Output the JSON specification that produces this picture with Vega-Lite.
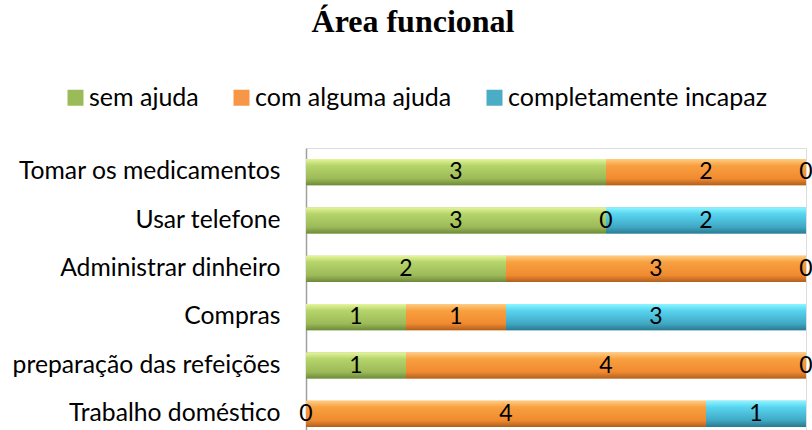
{
  "$schema": "https://vega.github.io/schema/vega-lite/v6.json",
  "width": 500,
  "height": 290,
  "autosize": "none",
  "padding": {"left": 306, "top": 148, "right": 6, "bottom": 0},
  "background": "white",
  "title": {"text": "Área funcional", "font": "Liberation Serif", "fontSize": 32, "fontWeight": "bold", "color": "black", "anchor": "middle", "baseline": "alphabetic", "dx": -143, "offset": 21},
  "data": {"values": [
    {"task": "Tomar os medicamentos", "status": "sem ajuda", "o": 1, "value": 3},
    {"task": "Tomar os medicamentos", "status": "com alguma ajuda", "o": 2, "value": 2},
    {"task": "Tomar os medicamentos", "status": "completamente incapaz", "o": 3, "value": 0},
    {"task": "Usar telefone ", "status": "sem ajuda", "o": 1, "value": 3},
    {"task": "Usar telefone ", "status": "com alguma ajuda", "o": 2, "value": 0},
    {"task": "Usar telefone ", "status": "completamente incapaz", "o": 3, "value": 2},
    {"task": "Administrar dinheiro", "status": "sem ajuda", "o": 1, "value": 2},
    {"task": "Administrar dinheiro", "status": "com alguma ajuda", "o": 2, "value": 3},
    {"task": "Administrar dinheiro", "status": "completamente incapaz", "o": 3, "value": 0},
    {"task": "Compras", "status": "sem ajuda", "o": 1, "value": 1},
    {"task": "Compras", "status": "com alguma ajuda", "o": 2, "value": 1},
    {"task": "Compras", "status": "completamente incapaz", "o": 3, "value": 3},
    {"task": "preparação das refeições", "status": "sem ajuda", "o": 1, "value": 1},
    {"task": "preparação das refeições", "status": "com alguma ajuda", "o": 2, "value": 4},
    {"task": "preparação das refeições", "status": "completamente incapaz", "o": 3, "value": 0},
    {"task": "Trabalho doméstico", "status": "sem ajuda", "o": 1, "value": 0},
    {"task": "Trabalho doméstico", "status": "com alguma ajuda", "o": 2, "value": 4},
    {"task": "Trabalho doméstico", "status": "completamente incapaz", "o": 3, "value": 1}
  ]},
  "transform": [
    {"stack": "value", "groupby": ["task"], "sort": [{"field": "o", "order": "ascending"}], "as": ["x0", "x1"]},
    {"calculate": "(datum.x0 + datum.x1) / 2", "as": "xm"}
  ],
  "encoding": {
    "y": {"field": "task", "type": "nominal",
      "sort": ["Tomar os medicamentos", "Usar telefone ", "Administrar dinheiro", "Compras", "preparação das refeições", "Trabalho doméstico"],
      "scale": {"paddingInner": 0.46, "paddingOuter": 0.23},
      "axis": {"title": null, "ticks": false, "domainColor": "#a0a0a0", "domainWidth": 1.5, "labelPadding": 26, "labelFont": "Lato", "labelFontSize": 24.7, "labelColor": "black", "labelLimit": 0}}
  },
  "layer": [
    {"mark": {"type": "bar"},
     "encoding": {
       "x": {"field": "x0", "type": "quantitative", "scale": {"domain": [0, 5], "nice": false}, "axis": null},
       "x2": {"field": "x1"},
       "color": {"field": "status", "type": "nominal",
         "scale": {"domain": ["sem ajuda", "com alguma ajuda", "completamente incapaz"], "range": ["#9bbb59", "#f79646", "#4bacc6"]},
         "legend": {"title": null, "orient": "none", "direction": "horizontal", "legendX": -243, "legendY": -63, "padding": 0, "symbolType": "square", "symbolSize": 256, "symbolStrokeWidth": 0, "labelFont": "Lato", "labelFontSize": 25, "labelColor": "black", "labelOffset": 1, "columnPadding": 30, "labelLimit": 0}}
     }},
    {"transform": [{"filter": "datum.status == 'sem ajuda'"}],
     "mark": {"type": "bar", "color": {"gradient": "linear", "x1": 0, "y1": 0, "x2": 0, "y2": 1, "stops": [{"offset": 0, "color": "#e4f59a"}, {"offset": 0.25, "color": "#b5d46a"}, {"offset": 0.75, "color": "#9cba58"}, {"offset": 1, "color": "#6d8a3a"}]}},
     "encoding": {"x": {"field": "x0", "type": "quantitative"}, "x2": {"field": "x1"}}},
    {"transform": [{"filter": "datum.status == 'com alguma ajuda'"}],
     "mark": {"type": "bar", "color": {"gradient": "linear", "x1": 0, "y1": 0, "x2": 0, "y2": 1, "stops": [{"offset": 0, "color": "#ffcc80"}, {"offset": 0.25, "color": "#f8a040"}, {"offset": 0.75, "color": "#f08a30"}, {"offset": 1, "color": "#b0601e"}]}},
     "encoding": {"x": {"field": "x0", "type": "quantitative"}, "x2": {"field": "x1"}}},
    {"transform": [{"filter": "datum.status == 'completamente incapaz'"}],
     "mark": {"type": "bar", "color": {"gradient": "linear", "x1": 0, "y1": 0, "x2": 0, "y2": 1, "stops": [{"offset": 0, "color": "#8af6ff"}, {"offset": 0.25, "color": "#58d4f0"}, {"offset": 0.75, "color": "#40a8c4"}, {"offset": 1, "color": "#2a7a90"}]}},
     "encoding": {"x": {"field": "x0", "type": "quantitative"}, "x2": {"field": "x1"}}},
    {"mark": {"type": "text", "font": "Lato", "fontSize": 23, "color": "black", "align": "center", "baseline": "middle"},
     "encoding": {"x": {"field": "xm", "type": "quantitative"}, "text": {"field": "value", "type": "quantitative"}}}
  ]
}
